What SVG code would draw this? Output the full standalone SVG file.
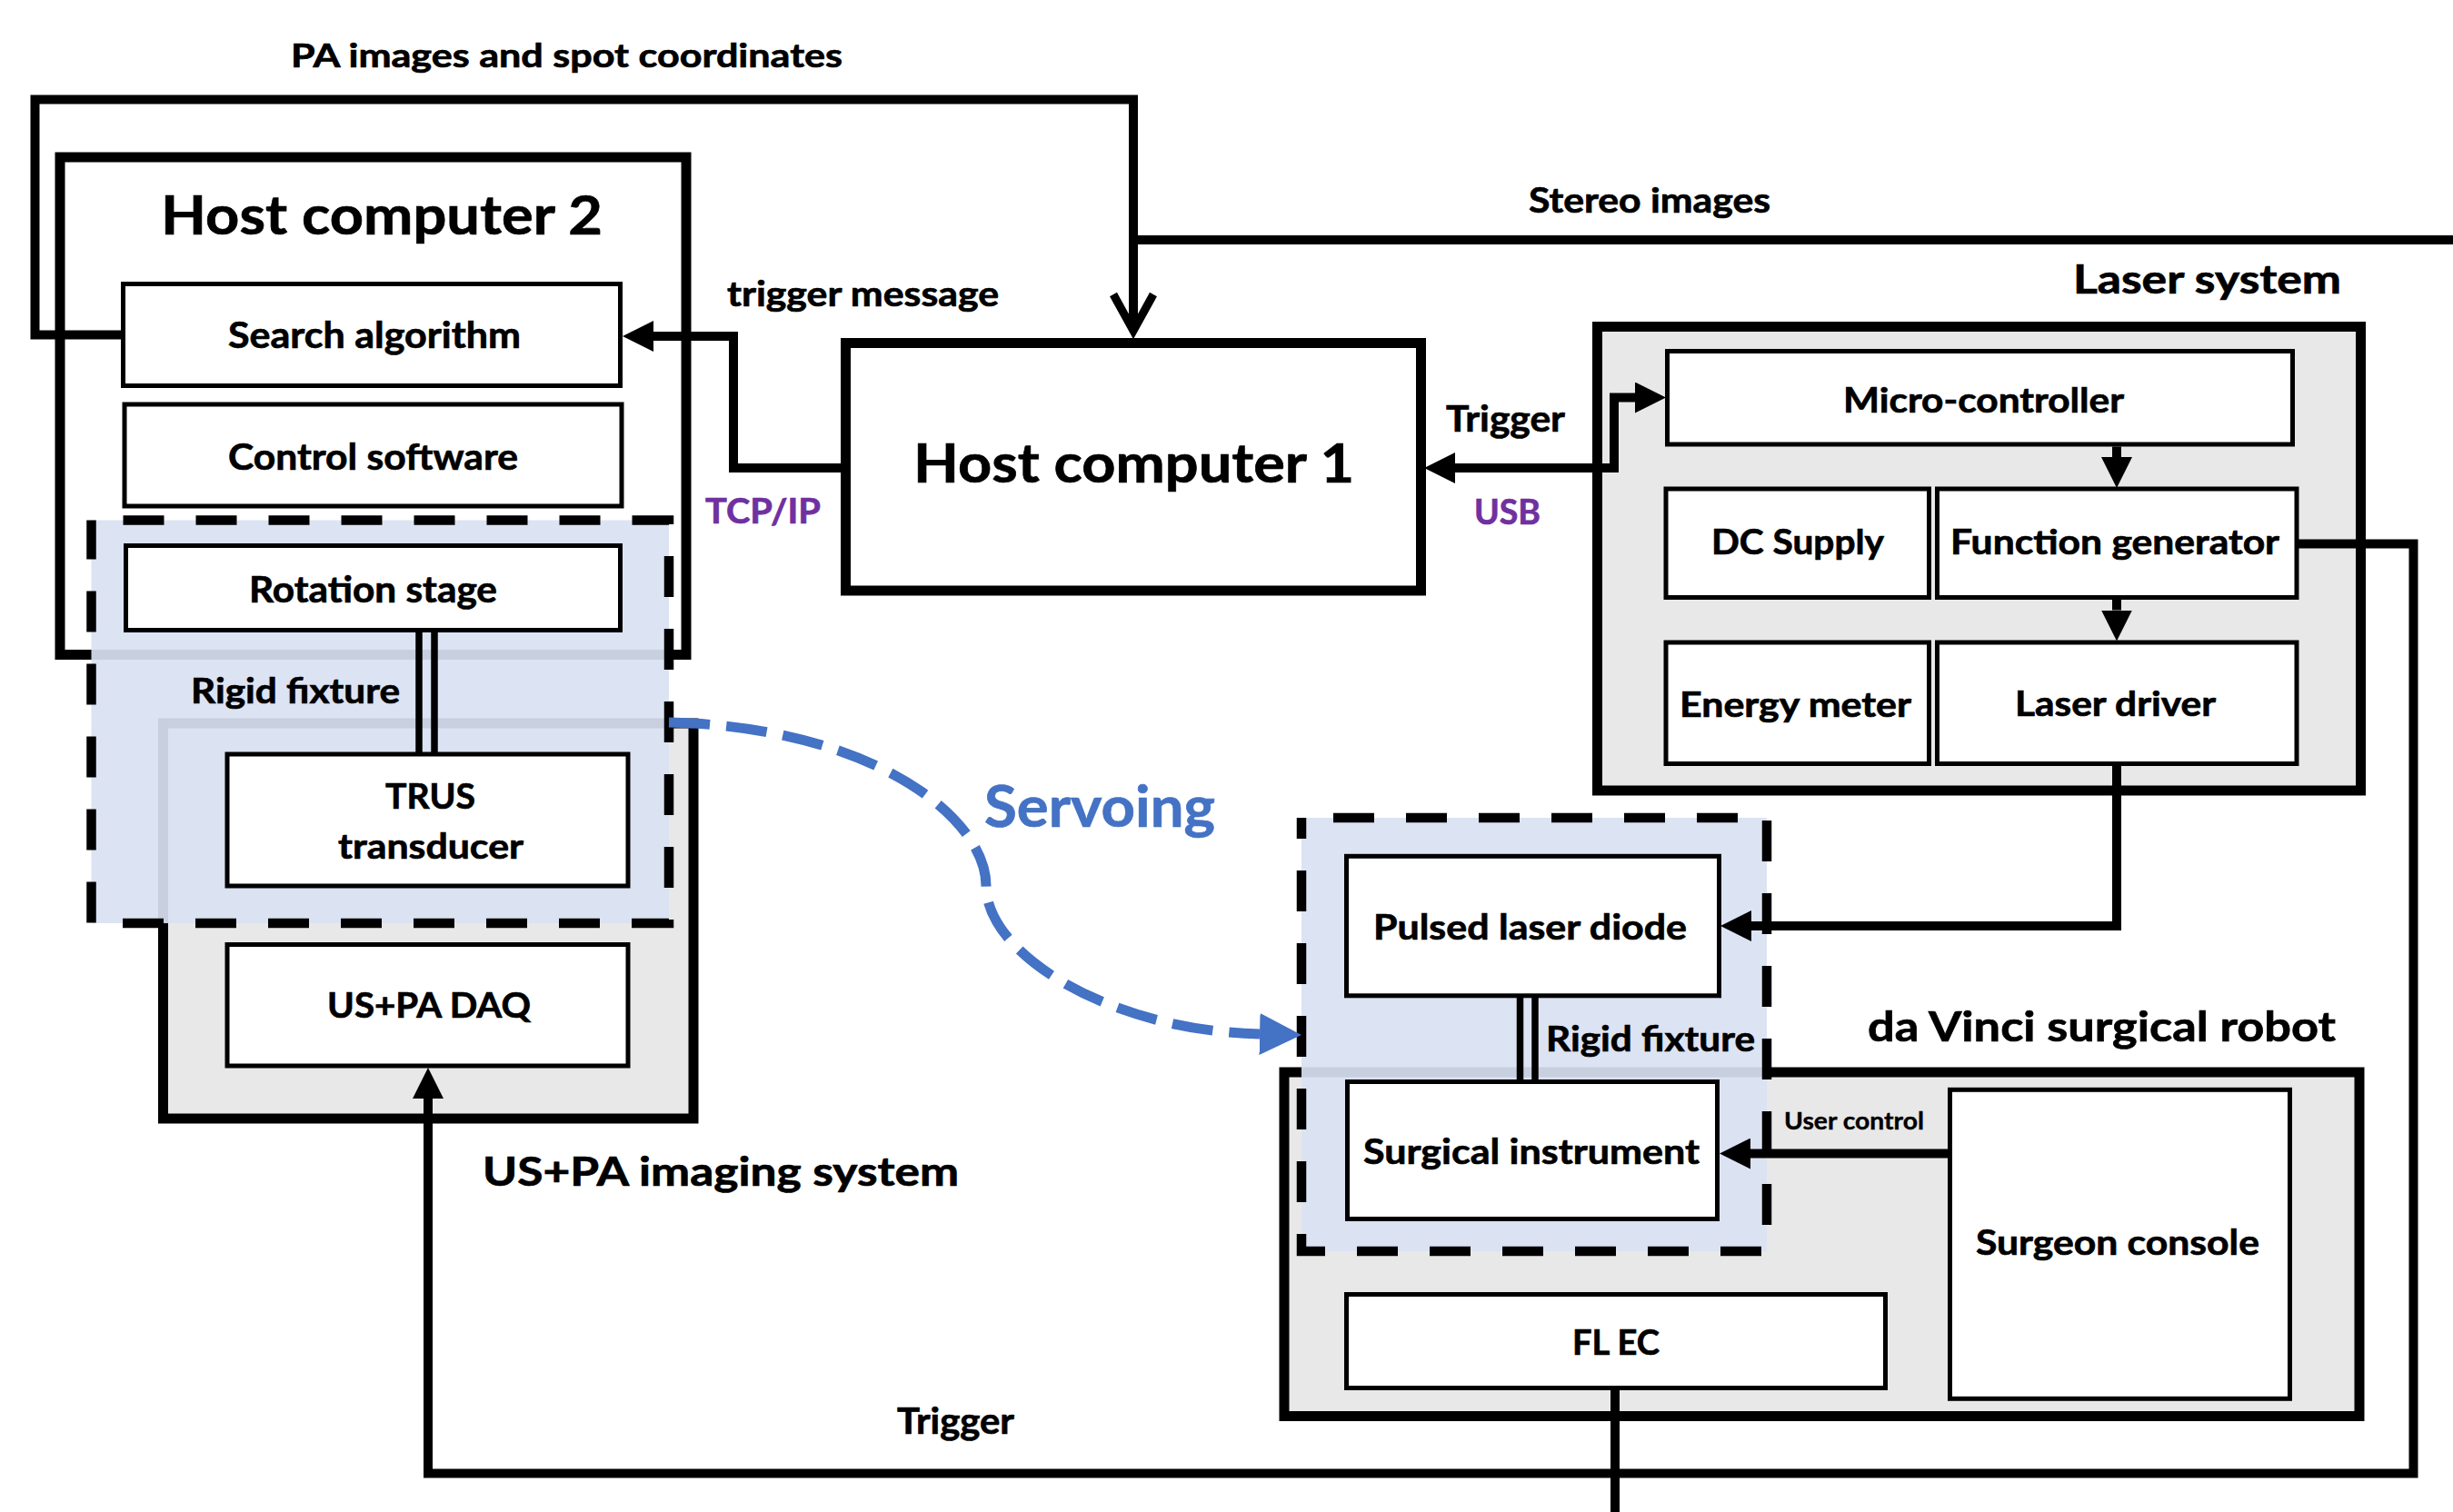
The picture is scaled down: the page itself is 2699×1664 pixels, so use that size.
<svg xmlns="http://www.w3.org/2000/svg" width="2699" height="1664" viewBox="0 0 2699 1664">
<defs>
<style>
.t{font-family:Lato,"Liberation Sans",sans-serif;font-weight:700;fill:#000;stroke:#000;stroke-width:0.7}
.purple{fill:#7030A0;stroke:#7030A0}
.blueT{fill:#4472C4;stroke:#4472C4}
.sys{fill:#E8E8E8;stroke:#000;stroke-width:11}
.host{fill:#fff;stroke:#000;stroke-width:11}
.box{fill:#fff;stroke:#000;stroke-width:5}
.ovl{fill:#D9E1F2;fill-opacity:0.92;stroke:none}
.dash{fill:none;stroke:#000;stroke-width:10.5;stroke-dasharray:45 35;stroke-dashoffset:45}
.wire{fill:none;stroke:#000;stroke-width:10;stroke-linejoin:miter}
.dbl{fill:none;stroke:#000;stroke-width:7.5}
</style>
<marker id="arr" markerUnits="userSpaceOnUse" markerWidth="34" markerHeight="34" viewBox="0 0 34 34" refX="0" refY="17" orient="auto-start-reverse">
<path d="M0,0 L34,17 L0,34 z" fill="#000"/>
</marker>
<marker id="chev" markerUnits="userSpaceOnUse" markerWidth="60" markerHeight="60" viewBox="-50 -30 60 60" refX="0" refY="0" orient="auto" overflow="visible">
<path d="M-40,-22 L0,0 L-40,22" fill="none" stroke="#000" stroke-width="9"/>
</marker>
<marker id="barr" markerUnits="userSpaceOnUse" markerWidth="46" markerHeight="46" viewBox="0 0 46 46" refX="0" refY="23" orient="auto">
<path d="M0,0 L46,23 L0,46 z" fill="#4472C4"/>
</marker>
</defs>
<rect width="2699" height="1664" fill="#fff"/>

<g id="host-computer-2">
<rect class="host" x="66" y="173" width="689" height="547.5" fill="none"/>
<text class="t" x="177" y="258" font-size="60" textLength="486" lengthAdjust="spacingAndGlyphs">Host computer 2</text>
</g>
<g id="us-pa-imaging-system">
<rect class="sys" x="179.5" y="796" width="583.5" height="435"/>
<text class="t" x="531" y="1305" font-size="44" textLength="524" lengthAdjust="spacingAndGlyphs">US+PA imaging system</text>
</g>
<g id="laser-system">
<rect class="sys" x="1757.5" y="359.5" width="840" height="510.5"/>
<text class="t" x="2281" y="323" font-size="43" textLength="295" lengthAdjust="spacingAndGlyphs">Laser system</text>
</g>
<g id="da-vinci-robot">
<rect class="sys" x="1413" y="1180" width="1183" height="378.5"/>
<text class="t" x="2055" y="1146" font-size="46" textLength="515" lengthAdjust="spacingAndGlyphs">da Vinci surgical robot</text>
</g>
<g id="host-computer-1">
<rect class="host" x="930.5" y="377.5" width="633" height="272.5"/>
<text class="t" x="1005" y="531" font-size="60" textLength="485" lengthAdjust="spacingAndGlyphs">Host computer 1</text>
</g>

<g id="rigid-fixture-trus">
<rect class="ovl" x="100.5" y="572.5" width="635.5" height="443.5"/>
<rect class="dash" x="100.5" y="572.5" width="635.5" height="443.5"/>
<text class="t" x="210" y="774" font-size="39" textLength="230" lengthAdjust="spacingAndGlyphs">Rigid fixture</text>
</g>
<g id="rigid-fixture-laser">
<rect class="ovl" x="1432" y="900" width="512" height="477"/>
<rect class="dash" x="1432" y="900" width="512" height="477"/>
<text class="t" x="1701" y="1157" font-size="39" textLength="230" lengthAdjust="spacingAndGlyphs">Rigid fixture</text>
</g>

<g id="search-algorithm">
<rect class="box" x="135.5" y="312.5" width="547" height="112"/>
<text class="t" x="251" y="383" font-size="40" textLength="322" lengthAdjust="spacingAndGlyphs">Search algorithm</text>
</g>
<g id="control-software">
<rect class="box" x="137" y="445" width="547" height="112"/>
<text class="t" x="251" y="517" font-size="40" textLength="319" lengthAdjust="spacingAndGlyphs">Control software</text>
</g>
<g id="rotation-stage">
<rect class="box" x="138.5" y="600.5" width="544" height="93"/>
<text class="t" x="274" y="663" font-size="40" textLength="273" lengthAdjust="spacingAndGlyphs">Rotation stage</text>
</g>
<g id="trus-transducer">
<rect class="box" x="250" y="830" width="441" height="145"/>
<text class="t" x="424" y="890" font-size="39" textLength="99" lengthAdjust="spacingAndGlyphs">TRUS</text>
<text class="t" x="372" y="945" font-size="39" textLength="204" lengthAdjust="spacingAndGlyphs">transducer</text>
</g>
<g id="us-pa-daq">
<rect class="box" x="250" y="1039.5" width="441" height="133.5"/>
<text class="t" x="360" y="1120" font-size="39" textLength="224" lengthAdjust="spacingAndGlyphs">US+PA DAQ</text>
</g>
<g id="micro-controller">
<rect class="box" x="1834.5" y="386.5" width="688" height="102.5"/>
<text class="t" x="2028" y="454" font-size="38" textLength="309" lengthAdjust="spacingAndGlyphs">Micro-controller</text>
</g>
<g id="dc-supply">
<rect class="box" x="1833" y="538" width="289.5" height="119.5"/>
<text class="t" x="1883" y="610" font-size="38" textLength="190" lengthAdjust="spacingAndGlyphs">DC Supply</text>
</g>
<g id="function-generator">
<rect class="box" x="2131.5" y="538" width="395.5" height="119.5"/>
<text class="t" x="2146" y="610" font-size="38" textLength="362" lengthAdjust="spacingAndGlyphs">Function generator</text>
</g>
<g id="energy-meter">
<rect class="box" x="1833" y="707" width="289.5" height="133.5"/>
<text class="t" x="1848" y="789" font-size="38" textLength="255" lengthAdjust="spacingAndGlyphs">Energy meter</text>
</g>
<g id="laser-driver">
<rect class="box" x="2131.5" y="707" width="395.5" height="133.5"/>
<text class="t" x="2217" y="788" font-size="38" textLength="221" lengthAdjust="spacingAndGlyphs">Laser driver</text>
</g>
<g id="pulsed-laser-diode">
<rect class="box" x="1481.5" y="942.3" width="410" height="153.5"/>
<text class="t" x="1511" y="1034" font-size="39" textLength="345" lengthAdjust="spacingAndGlyphs">Pulsed laser diode</text>
</g>
<g id="surgical-instrument">
<rect class="box" x="1482.5" y="1190.5" width="407" height="151"/>
<text class="t" x="1500" y="1281" font-size="39" textLength="370" lengthAdjust="spacingAndGlyphs">Surgical instrument</text>
</g>
<g id="surgeon-console">
<rect class="box" x="2145.5" y="1199.3" width="374" height="340"/>
<text class="t" x="2174" y="1381" font-size="39" textLength="312" lengthAdjust="spacingAndGlyphs">Surgeon console</text>
</g>
<g id="fl-ec">
<rect class="box" x="1481.5" y="1424.5" width="593" height="103"/>
<text class="t" x="1730" y="1491" font-size="39" textLength="96" lengthAdjust="spacingAndGlyphs">FL EC</text>
</g>

<g id="connectors">
<path class="wire" d="M133,368.5 H38.5 V109.5 H1247 V364" marker-end="url(#chev)"/>
<path class="wire" d="M2699,264 H1247"/>
<path class="wire" d="M925,515 H807 V370 H719" marker-end="url(#arr)"/>
<path class="wire" d="M1601,515 H1776 V437.5 H1799" marker-start="url(#arr)" marker-end="url(#arr)"/>
<path class="wire" d="M2329,491.5 V503" marker-end="url(#arr)"/>
<path class="wire" d="M2329,660 V671.5" marker-end="url(#arr)"/>
<path class="wire" d="M2529,598.5 H2655.5 V1621.5 H471 V1209" marker-end="url(#arr)"/>
<path class="wire" d="M2329,843 V1019 H1927" marker-end="url(#arr)"/>
<path class="wire" d="M2143,1269.5 H1926" marker-end="url(#arr)"/>
<path class="wire" d="M1777,1530 V1664"/>
<path class="dbl" d="M461,693 V828 M478,693 V828"/>
<path class="dbl" d="M1672.5,1097 V1191 M1689,1097 V1191"/>
<path d="M736,795 C960,800 1085,900 1085,975 C1085,1050 1220,1134 1386,1138" fill="none" stroke="#4472C4" stroke-width="11" stroke-dasharray="45 18" marker-end="url(#barr)"/>
</g>

<g id="labels">
<text class="t" x="320" y="74" font-size="37" textLength="607" lengthAdjust="spacingAndGlyphs">PA images and spot coordinates</text>
<text class="t" x="1682" y="234" font-size="38" textLength="266" lengthAdjust="spacingAndGlyphs">Stereo images</text>
<text class="t" x="800" y="337" font-size="39" textLength="299" lengthAdjust="spacingAndGlyphs">trigger message</text>
<text class="t purple" x="776" y="576" font-size="38" textLength="127" lengthAdjust="spacingAndGlyphs">TCP/IP</text>
<text class="t" x="1591" y="475" font-size="40" textLength="131" lengthAdjust="spacingAndGlyphs">Trigger</text>
<text class="t purple" x="1622" y="577" font-size="38" textLength="73" lengthAdjust="spacingAndGlyphs">USB</text>
<text class="t blueT" x="1083" y="910" font-size="63" textLength="254" lengthAdjust="spacingAndGlyphs">Servoing</text>
<text class="t" x="1963" y="1243" font-size="27" textLength="154" lengthAdjust="spacingAndGlyphs" style="stroke-width:0.4">User control</text>
<text class="t" x="987" y="1578" font-size="40" textLength="129" lengthAdjust="spacingAndGlyphs">Trigger</text>
</g>
</svg>
